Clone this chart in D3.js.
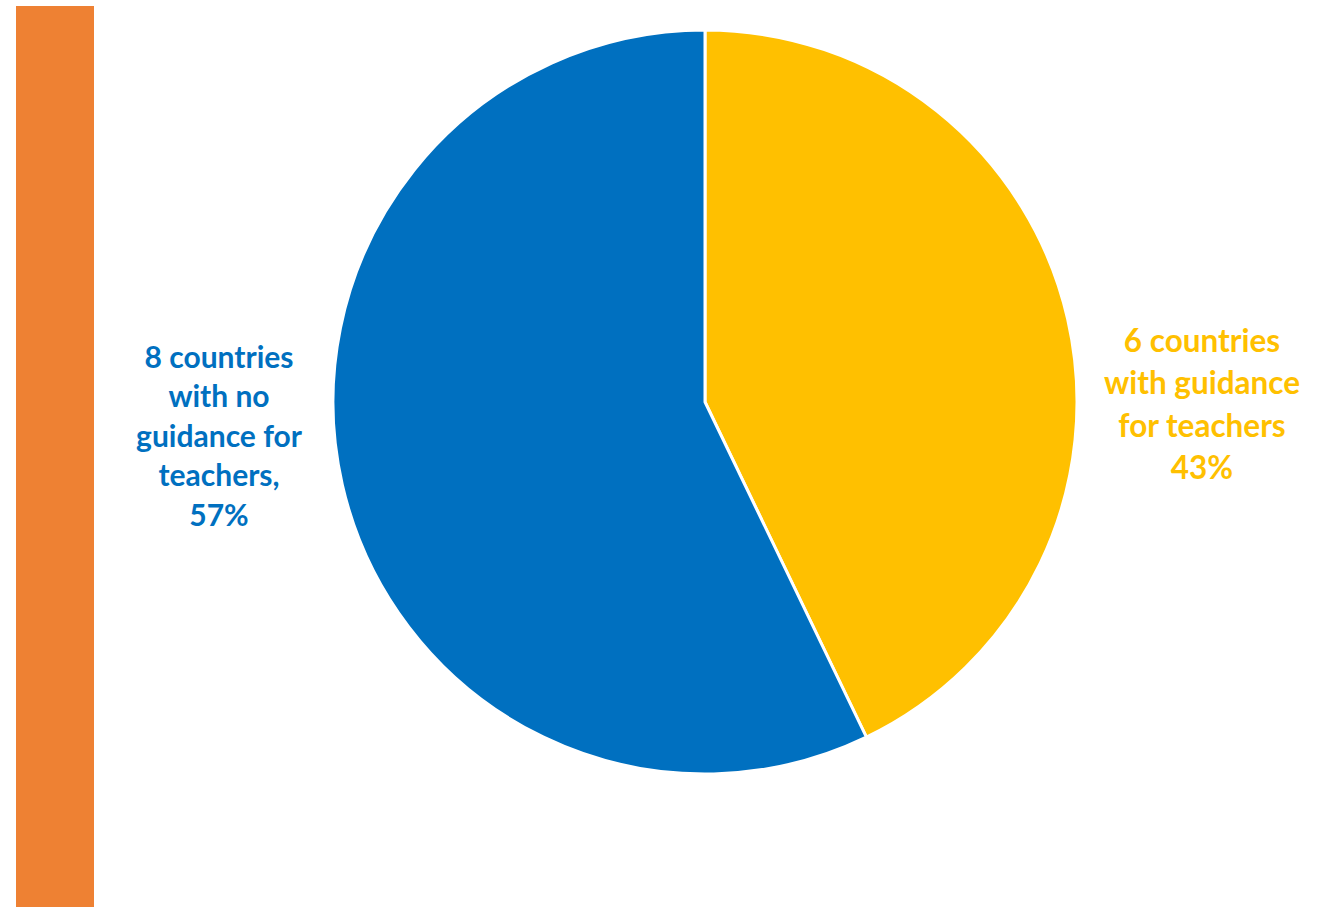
<!DOCTYPE html>
<html>
<head>
<meta charset="utf-8">
<script src="https://cdn.jsdelivr.net/npm/d3@7"></script>
<style>
  html, body { margin: 0; padding: 0; background: #fff; }
  svg { display: block; }
  text { font-family: Lato, "Open Sans", sans-serif; font-weight: 700; }
</style>
</head>
<body>
<svg id="chart" width="1317" height="907"></svg>
<script>
// Countries with / without guidance for teachers
const categories = ["with guidance", "no guidance"];
const countries = [6, 8];
const colors = ["#FFC000", "#0070C0"];
const labelLines = [
  ["6 countries", "with guidance", "for teachers", "43%"],
  ["8 countries", "with no", "guidance for", "teachers,", "57%"]
];

const svg = d3.select("#chart");
const W = 1317, H = 907;

// Orange side band
svg.append("rect")
  .attr("x", 16).attr("y", 6)
  .attr("width", 78).attr("height", H - 6)
  .attr("fill", "#EE8133");

const cx = 705, cy = 402, r = 372;

const pie = d3.pie().sort(null).value(d => d)(countries);
const arc = d3.arc().innerRadius(0).outerRadius(r);

const g = svg.append("g").attr("transform", `translate(${cx},${cy})`);
g.selectAll("path")
  .data(pie)
  .join("path")
  .attr("d", arc)
  .attr("fill", (d, i) => colors[i])
  .attr("stroke", "#fff")
  .attr("stroke-width", 3)
  .attr("stroke-linejoin", "round");

// Labels outside the pie
const labelPos = [
  { x: 1202, y: 341, step: 42.3, size: 31.5 },
  { x: 219, y: 357, step: 39.5, size: 30 }
];
labelLines.forEach((lines, i) => {
  const t = svg.append("text")
    .attr("text-anchor", "middle")
    .attr("fill", colors[i])
    .attr("font-size", labelPos[i].size);
  lines.forEach((line, j) => {
    t.append("tspan")
      .attr("x", labelPos[i].x)
      .attr("y", labelPos[i].y + j * labelPos[i].step)
      .attr("dy", "0.35em")
      .text(line);
  });
});
</script>
</body>
</html>
